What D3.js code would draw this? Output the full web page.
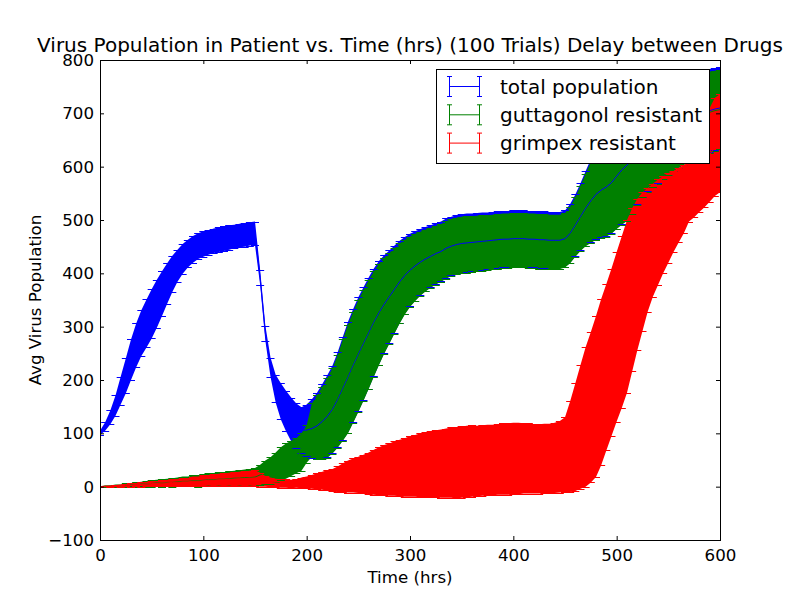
<!DOCTYPE html>
<html>
<head>
<meta charset="utf-8">
<script src="https://cdnjs.cloudflare.com/ajax/libs/d3/7.8.5/d3.min.js"></script>
<style>
  body { margin: 0; background: #fff; }
  .js-vis { width: 800px; height: 600px; }
  text { font-family: "DejaVu Sans", sans-serif; fill: #000; }
</style>
</head>
<body>
<div class="js-vis"></div>
<script>
// time steps (hrs), one sample every 5 hrs
const hours = [
  0, 5, 10, 15, 20, 25, 30, 35, 40, 45,
  50, 55, 60, 65, 70, 75, 80, 85, 90, 95,
  100, 105, 110, 115, 120, 125, 130, 135, 140, 145,
  150, 155, 160, 165, 170, 175, 180, 185, 190, 195,
  200, 205, 210, 215, 220, 225, 230, 235, 240, 245,
  250, 255, 260, 265, 270, 275, 280, 285, 290, 295,
  300, 305, 310, 315, 320, 325, 330, 335, 340, 345,
  350, 355, 360, 365, 370, 375, 380, 385, 390, 395,
  400, 405, 410, 415, 420, 425, 430, 435, 440, 445,
  450, 455, 460, 465, 470, 475, 480, 485, 490, 495,
  500, 505, 510, 515, 520, 525, 530, 535, 540, 545,
  550, 555, 560, 565, 570, 575, 580, 585, 590, 595,
  600
]

const totalMean = [
  101, 113, 130, 152, 180, 208, 238, 265, 288, 306,
  324, 343, 362, 381, 399, 414, 427, 437, 445, 451,
  455, 458, 461, 463, 465, 467, 469, 471, 472, 474,
  475, 392, 288, 224, 184, 160, 142, 126, 114, 106,
  106, 109, 114, 122, 132, 145, 163, 184, 205, 227,
  248, 268, 288, 308, 326, 342, 356, 370, 384, 396,
  406, 414, 421, 427, 432, 437, 441, 447, 451, 454,
  456, 457, 458, 459, 460, 461, 462, 463, 464, 464,
  465, 465, 465, 464, 464, 463, 463, 462, 462, 462,
  465, 475, 490, 506, 522, 536, 548, 556, 562, 570,
  582, 594, 603, 612, 622, 630, 638, 646, 653, 660,
  667, 673, 679, 684, 689, 694, 698, 702, 705, 708,
  710
]
const totalStd = [
  4, 8, 13, 19, 26, 33, 38, 41, 43, 45,
  46, 45, 42, 38, 34, 30, 28, 26, 25, 24,
  24, 23, 23, 23, 23, 23, 22, 22, 22, 22,
  22, 14, 14, 18, 26, 34, 38, 41, 42, 43,
  48, 55, 62, 70, 77, 82, 89, 97, 104, 106,
  107, 106, 104, 101, 97, 92, 87, 82, 77, 72,
  68, 65, 62, 60, 58, 57, 56, 56, 55, 55,
  55, 55, 54, 54, 54, 53, 53, 53, 53, 53,
  53, 53, 53, 53, 53, 53, 53, 53, 53, 53,
  53, 55, 58, 63, 70, 78, 84, 88, 92, 95,
  98, 102, 104, 100, 92, 86, 84, 84, 84, 83,
  82, 81, 81, 80, 80, 80, 80, 79, 78, 77,
  76
]

const guttMean = [
  0, 1, 1, 2, 2, 3, 4, 4, 5, 5,
  6, 7, 7, 8, 8, 9, 10, 10, 11, 11,
  12, 13, 13, 14, 14, 15, 16, 16, 17, 17,
  18, 22, 27, 30, 36, 43, 48, 53, 58, 65,
  80, 106, 111, 119, 129, 142, 160, 181, 202, 224,
  245, 265, 285, 305, 323, 339, 353, 367, 381, 393,
  403, 411, 418, 424, 429, 434, 438, 444, 448, 451,
  453, 454, 455, 456, 457, 458, 459, 460, 461, 461,
  462, 462, 462, 461, 461, 460, 460, 459, 459, 459,
  462, 472, 487, 503, 519, 533, 545, 553, 559, 567,
  579, 591, 600, 609, 619, 627, 635, 643, 650, 657,
  664, 670, 676, 681, 686, 691, 695, 699, 702, 705,
  707
]
const guttStd = [
  0, 1, 1, 2, 2, 3, 3, 4, 4, 5,
  6, 6, 7, 7, 8, 8, 9, 9, 10, 11,
  11, 12, 12, 13, 13, 14, 14, 15, 15, 16,
  17, 19, 22, 25, 28, 31, 33, 33, 33, 35,
  35, 50, 60, 68, 75, 80, 87, 95, 102, 104,
  105, 104, 102, 99, 95, 90, 85, 80, 75, 70,
  66, 63, 60, 58, 56, 55, 54, 54, 53, 53,
  53, 53, 52, 52, 52, 51, 51, 51, 51, 51,
  51, 51, 51, 51, 51, 51, 51, 51, 51, 51,
  51, 53, 56, 61, 68, 76, 82, 86, 90, 93,
  96, 100, 102, 98, 90, 84, 82, 82, 82, 81,
  80, 79, 79, 78, 78, 78, 78, 77, 76, 75,
  74
]

const grimMean = [
  0, 1, 1, 2, 2, 3, 3, 4, 4, 5,
  6, 6, 7, 7, 8, 8, 9, 9, 10, 10,
  11, 12, 12, 13, 13, 14, 14, 15, 15, 16,
  16, 13, 10, 8, 7, 6, 6, 5, 6, 7,
  8, 9, 10, 11, 12, 12, 14, 17, 19, 21,
  22, 24, 25, 27, 29, 31, 32, 34, 35, 36,
  38, 39, 40, 41, 42, 43, 43, 44, 45, 45,
  46, 47, 48, 48, 49, 50, 50, 51, 52, 52,
  53, 53, 53, 53, 52, 52, 53, 53, 54, 56,
  60, 75, 93, 112, 131, 149, 169, 196, 224, 252,
  281, 309, 338, 369, 398, 422, 444, 462, 477, 491,
  504, 516, 528, 539, 553, 565, 583, 602, 622, 637,
  644
]
const grimStd = [
  0, 0, 1, 1, 2, 2, 3, 3, 4, 4,
  5, 5, 6, 6, 7, 7, 8, 8, 9, 9,
  10, 10, 11, 11, 12, 12, 13, 13, 14, 14,
  15, 13, 10, 9, 8, 8, 8, 8, 8, 10,
  11, 13, 15, 17, 19, 21, 24, 27, 30, 32,
  34, 36, 39, 42, 45, 47, 49, 51, 53, 55,
  57, 58, 60, 61, 62, 63, 64, 65, 66, 67,
  67, 67, 67, 66, 66, 66, 66, 66, 67, 67,
  67, 67, 66, 66, 65, 65, 65, 65, 66, 67,
  70, 85, 101, 116, 131, 141, 151, 156, 156, 157,
  159, 161, 162, 153, 142, 130, 116, 106, 99, 91,
  84, 76, 70, 64, 56, 60, 68, 78, 88, 92,
  92
]

const names = ['total population', 'guttagonol resistant', 'grimpex resistant']
const colors = ['#0000ff', '#008000', '#ff0000']
const xTicks = [0, 100, 200, 300, 400, 500, 600]
const yTicks = [-100, 0, 100, 200, 300, 400, 500, 600, 700, 800]

const series = [
  { name: names[0], color: colors[0], mean: totalMean, std: totalStd },
  { name: names[1], color: colors[1], mean: guttMean, std: guttStd },
  { name: names[2], color: colors[2], mean: grimMean, std: grimStd }
]

const margin = { top: 60, right: 80, bottom: 60, left: 100 },
    width = 800 - margin.left - margin.right,
    height = 600 - margin.top - margin.bottom

const svg = d3.select('.js-vis').append('svg')
    .attr('width', 800)
    .attr('height', 600)

const vis = svg.append('g')
    .attr('transform', 'translate(' + margin.left + ',' + margin.top + ')')

const x = d3.scaleLinear()
  .domain([0, 600])
  .range([0, width])

const y = d3.scaleLinear()
  .domain([-100, 800])
  .range([height, 0])

vis.append('clipPath')
    .attr('id', 'plot-clip')
  .append('rect')
    .attr('width', width)
    .attr('height', height)

const plot = vis.append('g')
    .attr('clip-path', 'url(#plot-clip)')

const band = d3.area()
  .x((d, i) => x(hours[i]))
  .y0((d, i) => y(d.mean[i] - d.std[i]))
  .y1((d, i) => y(d.mean[i] + d.std[i]))

// error bars first (drawn as the band they form), then lines and caps on top
plot.selectAll('.bars')
  .data(series)
.enter().append('path')
    .attr('class', 'bars')
    .attr('fill', d => d.color)
    .attr('d', d => band.x((v, i) => x(hours[i]))
      .y0((v, i) => y(d.mean[i] - d.std[i]))
      .y1((v, i) => y(d.mean[i] + d.std[i]))(hours))

const line = d3.line()

const marks = plot.selectAll('.marks')
  .data(series)
.enter().append('g')
    .attr('class', 'marks')

marks.append('path')
    .attr('fill', 'none')
    .attr('stroke', d => d.color)
    .attr('stroke-width', 1)
    .attr('d', d => line(hours.map((h, i) => [x(h), y(d.mean[i])])))

marks.append('path')
    .attr('fill', 'none')
    .attr('stroke', d => d.color)
    .attr('stroke-width', 1)
    .attr('d', d => hours.map((h, i) => {
      const cx = x(h),
          top = Math.round(y(d.mean[i] + d.std[i])) + 0.5,
          bot = Math.round(y(d.mean[i] - d.std[i])) + 0.5
      return 'M' + (cx - 4) + ',' + top + 'H' + (cx + 4) +
        'M' + (cx - 4) + ',' + bot + 'H' + (cx + 4)
    }).join(''))

// axes, ticks pointing inward on all four sides
const xax = d3.axisBottom(x).tickValues(xTicks).tickSize(-4).tickSizeOuter(0).tickPadding(9),
    yax = d3.axisLeft(y).tickValues(yTicks).tickSize(-4).tickSizeOuter(0).tickPadding(6),
    tax = d3.axisTop(x).tickValues(xTicks).tickSize(-4).tickSizeOuter(0).tickFormat(''),
    rax = d3.axisRight(y).tickValues(yTicks).tickSize(-4).tickSizeOuter(0).tickFormat('')

vis.append('g')
    .attr('transform', 'translate(0,' + height + ')')
    .call(xax)
vis.append('g')
    .call(yax)
vis.append('g')
    .call(tax)
vis.append('g')
    .attr('transform', 'translate(' + width + ',0)')
    .call(rax)

vis.selectAll('.domain').remove()
vis.selectAll('.tick line').attr('stroke', '#000')
vis.selectAll('.tick text')
    .attr('font-family', '"DejaVu Sans", sans-serif')
    .attr('font-size', '16.67px')
    .attr('fill', '#000')

vis.append('rect')
    .attr('x', 0.5)
    .attr('y', 0.5)
    .attr('width', width)
    .attr('height', height)
    .attr('fill', 'none')
    .attr('stroke', '#000')
    .attr('stroke-width', 1)

// legend
const legend = svg.append('g')
    .attr('transform', 'translate(436.5,69.5)')

legend.append('rect')
    .attr('width', 273)
    .attr('height', 94)
    .attr('fill', '#fff')
    .attr('stroke', '#000')

const item = legend.selectAll('.item')
  .data(series)
.enter().append('g')
    .attr('class', 'item')
    .attr('transform', (d, i) => 'translate(0,' + (17 + i * 28.3) + ')')

item.append('path')
    .attr('fill', 'none')
    .attr('stroke', d => d.color)
    .attr('d', 'M13,0H43M13,-10V10M43,-10V10M10.5,-10H15.5M10.5,10H15.5M40.5,-10H45.5M40.5,10H45.5')

item.append('text')
    .attr('x', 63.5)
    .attr('y', 7)
    .attr('font-size', '20px')
    .text(d => d.name)

svg.append('text')
    .attr('x', 410)
    .attr('y', 52)
    .attr('text-anchor', 'middle')
    .attr('font-size', '20px')
    .text('Virus Population in Patient vs. Time (hrs) (100 Trials) Delay between Drugs')

svg.append('text')
    .attr('x', 410)
    .attr('y', 583)
    .attr('text-anchor', 'middle')
    .attr('font-size', '16.67px')
    .text('Time (hrs)')

svg.append('text')
    .attr('transform', 'translate(41,300) rotate(-90)')
    .attr('text-anchor', 'middle')
    .attr('font-size', '16.67px')
    .text('Avg Virus Population')
</script>
</body>
</html>
